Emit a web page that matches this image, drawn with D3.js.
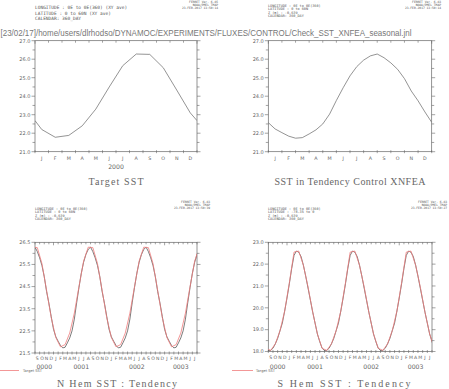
<!DOCTYPE html>
<html>
<head>
<meta charset="utf-8">
<script src="https://cdn.jsdelivr.net/npm/d3@7"></script>
<style>
  body { margin: 0; background: #fff; }
</style>
</head>
<body>
<script>
// month labels
var monthLabels = ["J","F","M","A","M","J","J","A","S","O","N","D"];

// N Hem target SST, mid-month values (Jan..Dec), and value at the year boundary
var nTarget = [22.2, 21.78, 21.88, 22.4, 23.3, 24.5, 25.65, 26.28, 26.26, 25.54, 24.33, 23.1];
var nTargetEdge = 22.68;

// N Hem SST in tendency control XNFEA, every half month from 1 Jan to 1 Jan
var nModel = [22.57, 22.23, 22.03, 21.84, 21.73, 21.76, 21.96, 22.18, 22.5, 23.03, 23.77, 24.46,
              25.1, 25.6, 25.95, 26.18, 26.28, 26.08, 25.8, 25.45, 24.95, 24.28, 23.75, 23.15, 22.59];

// S Hem target SST, mid-month values (Jan..Dec)
var sTarget = [21.15, 22.55, 22.6, 21.95, 20.95, 19.8, 18.8, 18.15, 18.05, 18.35, 18.95, 19.85];

// S Hem SST in tendency run, every half month from 1 Jan to 1 Jan
var sModel = [20.45, 21.1, 21.8, 22.4, 22.6, 22.55, 22.35, 21.95, 21.45, 20.9, 20.35, 19.8,
              19.3, 18.8, 18.45, 18.15, 18.05, 18.05, 18.15, 18.35, 18.6, 18.95, 19.3, 19.85, 20.45];

var years = ["0000", "0001", "0002", "0003"];

var width = 449, height = 389;
var svg = d3.select("body").append("svg")
    .attr("width", width)
    .attr("height", height)
    .attr("font-family", "DejaVu Sans, sans-serif");

var grey = "#666";

// monthly points (mid-month), repeated each year
function monthlyPoints(vals, nYears) {
  var pts = [];
  for (var y = 0; y < nYears; y++)
    vals.forEach(function(v, m) { pts.push([12 * y + m + 0.5, v]); });
  return pts;
}
// half-month points, repeated each year
function halfPoints(vals, nYears) {
  var pts = [];
  for (var y = 0; y < nYears; y++)
    vals.forEach(function(v, i) {
      if (i < vals.length - 1 || y == nYears - 1) pts.push([12 * y + i * 0.5, v]);
    });
  return pts;
}

function smallText(x, y, lines, size, step, anchor) {
  lines.forEach(function(s, i) {
    svg.append("text")
      .attr("x", x).attr("y", y + i * step)
      .attr("font-size", size)
      .attr("font-family", "DejaVu Sans Mono, monospace")
      .attr("text-anchor", anchor || "start")
      .attr("fill", "#555")
      .text(s);
  });
}

var clipId = 0;
function panel(p) {
  var x = d3.scaleLinear().domain(p.xDomain).range([p.left, p.right]);
  var y = d3.scaleLinear().domain(p.yDomain).range([p.bottom, p.top]);
  var g = svg.append("g");

  // frame
  g.append("rect")
    .attr("x", p.left).attr("y", p.top)
    .attr("width", p.right - p.left).attr("height", p.bottom - p.top)
    .attr("fill", "none").attr("stroke", grey).attr("stroke-width", 0.7);

  // y ticks, both sides
  var minor = d3.range(p.yDomain[0], p.yDomain[1] + 0.001, 0.5);
  minor.forEach(function(v) {
    var isMajor = p.yLabels.some(function(l) { return Math.abs(l - v) < 0.001; });
    var len = isMajor ? 3.5 : 2.5;
    g.append("line").attr("x1", p.left - len).attr("x2", p.left)
      .attr("y1", y(v)).attr("y2", y(v)).attr("stroke", grey).attr("stroke-width", 0.6);
    g.append("line").attr("x1", p.right).attr("x2", p.right + len)
      .attr("y1", y(v)).attr("y2", y(v)).attr("stroke", grey).attr("stroke-width", 0.6);
  });
  p.yLabels.forEach(function(v) {
    g.append("text")
      .attr("x", p.left - 4.5).attr("y", y(v) + 1.8)
      .attr("text-anchor", "end").attr("font-size", 5)
      .attr("fill", grey)
      .text(v.toFixed(1));
  });

  // x ticks at month boundaries, labels mid-month
  var bounds = d3.range(Math.ceil(p.xDomain[0]), p.xDomain[1] + 0.001, 1);
  bounds.forEach(function(t) {
    var big = (t % 12 == 0) ? 3 : 2;
    g.append("line").attr("x1", x(t)).attr("x2", x(t))
      .attr("y1", p.bottom - 1.5).attr("y2", p.bottom + 1.5)
      .attr("stroke", grey).attr("stroke-width", 0.6);
    g.append("line").attr("x1", x(t)).attr("x2", x(t))
      .attr("y1", p.top).attr("y2", p.top + big)
      .attr("stroke", grey).attr("stroke-width", 0.6);
  });
  d3.range(Math.floor(p.xDomain[0]), p.xDomain[1]).forEach(function(t) {
    g.append("text")
      .attr("x", x(t + 0.5)).attr("y", p.bottom + p.monthDy)
      .attr("text-anchor", "middle").attr("font-size", p.monthSize)
      .attr("fill", grey)
      .text(monthLabels[((t % 12) + 12) % 12]);
  });
  (p.yearLabels || []).forEach(function(yl) {
    g.append("text")
      .attr("x", x(yl.t)).attr("y", p.bottom + p.yearDy)
      .attr("text-anchor", "middle").attr("font-size", 6.2)
      .attr("fill", grey)
      .text(yl.label);
  });

  // series
  clipId++;
  svg.append("clipPath").attr("id", "c" + clipId)
    .append("rect").attr("x", p.left).attr("y", p.top - 2)
    .attr("width", p.right - p.left).attr("height", p.bottom - p.top + 4);
  var line = d3.line().x(function(d) { return x(d[0]); }).y(function(d) { return y(d[1]); });
  p.series.forEach(function(s) {
    g.append("path")
      .datum(s.data)
      .attr("clip-path", "url(#c" + clipId + ")")
      .attr("d", line)
      .attr("fill", "none")
      .attr("stroke", s.color)
      .attr("stroke-width", s.width || 0.7);
  });

  // title
  g.append("text")
    .attr("x", p.titleX).attr("y", p.titleY)
    .attr("text-anchor", "middle")
    .attr("font-family", "Liberation Serif, serif")
    .attr("font-size", 10)
    .attr("textLength", p.titleW).attr("lengthAdjust", "spacing")
    .attr("fill", "#666")
    .text(p.title);
}

// top-left: Target SST
var tlData = [[0, nTargetEdge]].concat(monthlyPoints(nTarget, 1)).concat([[12, nTargetEdge]]);
panel({
  left: 35, right: 197, top: 40.7, bottom: 151.7,
  xDomain: [0, 12], yDomain: [21, 27], yLabels: [21, 22, 23, 24, 25, 26, 27],
  monthDy: 8, monthSize: 4.8, yearDy: 16.8,
  yearLabels: [{t: 6, label: "2000"}],
  series: [{data: tlData, color: "#666"}],
  title: "Target SST", titleX: 116, titleY: 185, titleW: 55
});

// top-right: SST in Tendency Control XNFEA
panel({
  left: 268.3, right: 431.7, top: 40.7, bottom: 151.7,
  xDomain: [0, 12], yDomain: [21, 27], yLabels: [21, 22, 23, 24, 25, 26, 27],
  monthDy: 8, monthSize: 4.8,
  series: [{data: halfPoints(nModel, 1), color: "#666"}],
  title: "SST in Tendency Control XNFEA", titleX: 350, titleY: 185, titleW: 151
});

var pink = "#f07c7c";
var bottomYears = [{t: 10, label: years[0]}, {t: 18, label: years[1]}, {t: 30, label: years[2]}, {t: 39.5, label: years[3]}];

// bottom-left: N Hem
panel({
  left: 35, right: 197, top: 242.3, bottom: 353,
  xDomain: [8, 43], yDomain: [21.5, 26.5], yLabels: [21.5, 22.5, 23.5, 24.5, 25.5, 26.5],
  monthDy: 7.2, monthSize: 4.6, yearDy: 16,
  yearLabels: bottomYears,
  series: [{data: halfPoints(nModel, 4), color: "#444", width: 0.7},
           {data: monthlyPoints(nTarget, 4), color: pink, width: 0.8}],
  title: "N Hem SST : Tendency", titleX: 117, titleY: 387, titleW: 120
});

// bottom-right: S Hem
panel({
  left: 268.3, right: 432, top: 242.3, bottom: 351.5,
  xDomain: [8, 43], yDomain: [18, 23], yLabels: [18, 19, 20, 21, 22, 23],
  monthDy: 7.5, monthSize: 4.6, yearDy: 17.5,
  yearLabels: bottomYears,
  series: [{data: halfPoints(sModel, 4), color: "#444", width: 0.7},
           {data: monthlyPoints(sTarget, 4), color: pink, width: 0.8}],
  title: "S Hem SST : Tendency", titleX: 344, titleY: 387, titleW: 133
});

// legends
[[0, 19, 23], [232, 253, 256]].forEach(function(l) {
  svg.append("line").attr("x1", l[0]).attr("x2", l[1])
    .attr("y1", 370.5).attr("y2", 370.5)
    .attr("stroke", pink).attr("stroke-width", 0.8);
  svg.append("text").attr("x", l[2]).attr("y", 372)
    .attr("font-size", 3.6).attr("fill", grey).text("Target SST");
});

// header texts
smallText(35, 9, ["LONGITUDE : 0E to 0E(360) (XY ave)", "LATITUDE : 0 to 60N (XY ave)", "CALENDAR: 360_DAY"], 4.5, 5.5);
smallText(218, 3, ["FERRET Ver. 6.85", "NOAA/PMEL TMAP", "23-FEB-2017 13:50:14"], 3, 3.2, "end");
smallText(268, 7, ["LONGITUDE : 0E to 0E(360)", "LATITUDE : 0 to 60N", "Z (m) : -0.639", "CALENDAR: 360_DAY"], 3.5, 3.4);
smallText(441, 3, ["FERRET Ver. 6.83", "NOAA/PMEL TMAP", "23-FEB-2017 13:50:14"], 3, 3.2, "end");
smallText(35, 210, ["LONGITUDE : 0E to 0E(360)", "LATITUDE : 0 to 60N", "Z (m) : -0.639", "CALENDAR: 360_DAY"], 3.5, 3.4);
smallText(210, 202.5, ["FERRET Ver. 6.83", "NOAA/PMEL TMAP", "23-FEB-2017 13:50:39"], 3, 3.2, "end");
smallText(268, 210, ["LONGITUDE : 0E to 0E(360)", "LATITUDE : -78.35 to 0", "Z (m) : -0.639", "CALENDAR: 360_DAY"], 3.5, 3.4);
smallText(447, 202.5, ["FERRET Ver. 6.83", "NOAA/PMEL TMAP", "23-FEB-2017 13:50:27"], 3, 3.2, "end");

// journal file path (tall, narrow lettering)
svg.append("text")
  .attr("transform", "translate(0.5,35.5) scale(1,1.2)")
  .attr("font-family", "Liberation Sans, sans-serif")
  .attr("font-size", 8.2)
  .attr("textLength", 411).attr("lengthAdjust", "spacingAndGlyphs")
  .attr("fill", "#777")
  .text("[23/02/17]/home/users/dlrhodso/DYNAMOC/EXPERIMENTS/FLUXES/CONTROL/Check_SST_XNFEA_seasonal.jnl");
</script>
</body>
</html>
